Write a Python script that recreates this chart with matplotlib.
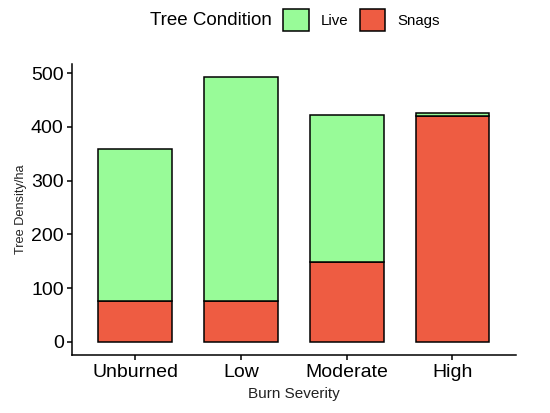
import numpy as np
import matplotlib.pyplot as plt
from matplotlib.patches import Patch

plt.rcParams['font.family'] = ['Liberation Sans', 'DejaVu Sans']

# data
severity = ['Unburned', 'Low', 'Moderate', 'High']
snags = [76, 76, 149, 420]
live = [283, 417, 273, 5]

live_col = '#98FB98'
snag_col = '#EE5C42'

fig = plt.figure(figsize=(5.5, 4.13), dpi=100)
ax = fig.add_axes([0.131, 0.140, 0.807, 0.705])

x = np.arange(1, len(severity) + 1)
ax.bar(x, snags, width=0.7, color=snag_col, edgecolor='black', linewidth=1.1)
ax.bar(x, live, width=0.7, bottom=snags, color=live_col, edgecolor='black', linewidth=1.1)

ax.set_xlim(0.4, 4.6)
ax.set_ylim(-24.6, 517)
ax.set_xticks(x)
ax.set_xticklabels(severity)
ax.set_yticks([0, 100, 200, 300, 400, 500])

for s in ['top', 'right']:
    ax.spines[s].set_visible(False)
for s in ['left', 'bottom']:
    ax.spines[s].set_linewidth(1.1)
ax.tick_params(axis='both', labelsize=14, length=3.5, width=1.1, colors='black')
ax.tick_params(axis='x', pad=3)
ax.tick_params(axis='y', pad=2.5)

ax.set_xlabel('Burn Severity', fontsize=11, color='#222222', labelpad=4.5)
ax.set_ylabel('Tree Density/ha', fontsize=9.2, color='#222222', labelpad=3)

# legend on top: title as text, keys in one row
fig.text(0.4945, 0.951, 'Tree Condition', fontsize=13.5, ha='right', va='center')
handles = [Patch(facecolor=live_col, edgecolor='black', linewidth=1.1, label='Live'),
           Patch(facecolor=snag_col, edgecolor='black', linewidth=1.1, label='Snags')]
fig.legend(handles=handles, loc='center left', ncol=2,
           bbox_to_anchor=(283 / 550, 0.951), frameon=False, fontsize=10.8,
           borderpad=0, borderaxespad=0, handlelength=1.73, handleheight=1.87,
           columnspacing=0.73, handletextpad=0.8)

fig.savefig('out.png', dpi=100)
